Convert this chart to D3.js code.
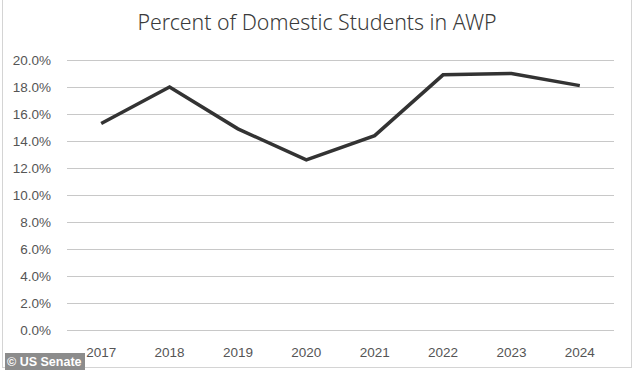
<!DOCTYPE html>
<html>
<head>
<meta charset="utf-8">
<script src="https://cdn.jsdelivr.net/npm/d3@7"></script>
<style>
  body { margin: 0; background: #fff; }
  .axis-ticks { font-family: "Liberation Sans", Arial, sans-serif; font-size: 13.5px; fill: #555555; }
  .chart-title { font-family: "Noto Sans", sans-serif; font-weight: 300; font-size: 21.3px; fill: #3a3a3a; }
</style>
</head>
<body>
<script>
var years = ["2017", "2018", "2019", "2020", "2021", "2022", "2023", "2024"];
var percent = [15.3, 18.0, 14.9, 12.6, 14.4, 18.9, 19.0, 18.1];
var y_ticks = [0, 2, 4, 6, 8, 10, 12, 14, 16, 18, 20];

var width = 634, height = 370;
var margin = {top: 60, right: 20, bottom: 40, left: 67};

var svg = d3.select("body").append("svg")
    .attr("width", width)
    .attr("height", height);

// outer frame
svg.append("rect")
    .attr("x", 2.5).attr("y", -1)
    .attr("width", width - 5).attr("height", height - 1.5)
    .attr("fill", "none")
    .attr("stroke", "#d4d4d4");

var x = d3.scaleBand()
    .domain(years)
    .range([margin.left, width - margin.right]);

var y = d3.scaleLinear()
    .domain([0, 20])
    .range([height - margin.bottom, margin.top]);

// gridlines
svg.append("g")
    .selectAll("line")
    .data(y_ticks)
    .enter()
    .append("line")
    .attr("x1", margin.left)
    .attr("x2", width - margin.right)
    .attr("y1", function (d) { return y(d) + 0.5; })
    .attr("y2", function (d) { return y(d) + 0.5; })
    .attr("stroke", "#c8c8c8")
    .attr("stroke-width", 1.2);

// y labels
svg.append("g")
    .selectAll("text")
    .data(y_ticks)
    .enter()
    .append("text")
    .attr("class", "axis-ticks")
    .attr("x", 51)
    .attr("y", function (d) { return y(d) + 5; })
    .style("text-anchor", "end")
    .text(function (d) { return d.toFixed(1) + "%"; });

// x labels
svg.append("g")
    .selectAll("text")
    .data(years)
    .enter()
    .append("text")
    .attr("class", "axis-ticks")
    .attr("x", function (d) { return x(d) + x.bandwidth() / 2; })
    .attr("y", 357)
    .style("text-anchor", "middle")
    .text(function (d) { return d; });

var line = d3.line()
    .x(function (d, i) { return x(years[i]) + x.bandwidth() / 2; })
    .y(function (d) { return y(d); });

svg.append("path")
    .datum(percent)
    .attr("d", line)
    .attr("fill", "none")
    .attr("stroke", "#333333")
    .attr("stroke-width", 3.5)
    .attr("stroke-linejoin", "miter");

// title
svg.append("text")
    .attr("class", "chart-title")
    .attr("transform", "translate(" + 317 + "," + 30 + ")")
    .style("text-anchor", "middle")
    .text("Percent of Domestic Students in AWP");

// watermark
svg.append("rect")
    .attr("x", 5).attr("y", 353)
    .attr("width", 80).attr("height", 17)
    .attr("fill", "#8c8c8c");
svg.append("text")
    .attr("x", 7).attr("y", 366)
    .style("font-family", "Liberation Sans, Arial, sans-serif")
    .style("font-weight", "bold")
    .style("font-size", "12.5px")
    .style("fill", "#fff")
    .text("© US Senate");
</script>
</body>
</html>
